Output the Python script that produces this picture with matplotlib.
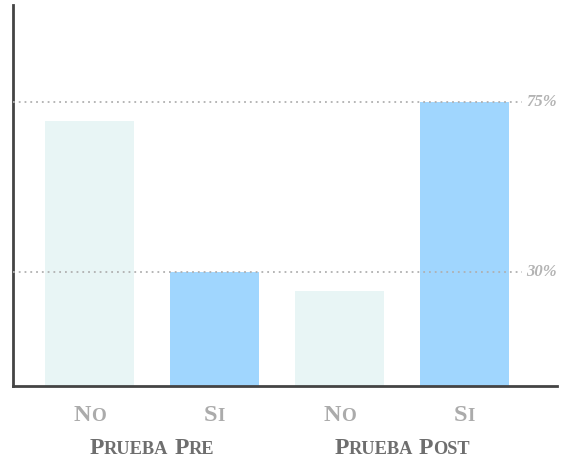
import numpy as np
import matplotlib
matplotlib.use("Agg")
import matplotlib.pyplot as plt

# data
categories = ["No", "Si", "No", "Si"]
groups = ["Prueba Pre", "Prueba Post"]
values = [70, 30, 25, 75]
ref_lines = [75, 30]
ref_labels = ["75%", "30%"]
bar_colors = ["#e8f5f5", "#a0d6fe", "#e8f5f5", "#a0d6fe"]

W, H = 564, 458
fig = plt.figure(figsize=(W / 100, H / 100), dpi=100)
ax = fig.add_axes([13 / W, 1 - 386 / H, 544 / W, 381 / H])

x = np.arange(len(values))
ax.bar(x, values, width=0.71, color=bar_colors, zorder=1)
ax.set_xlim(-0.612, 3.74)
ax.set_ylim(0, 100.6)

for v, lab in zip(ref_lines, ref_labels):
    ax.axhline(v, xmin=0, xmax=0.936, color="#b0b0b0", lw=1.3,
               linestyle=(0, (1, 2.2)), zorder=3)
    ax.text(0.999, v, lab, transform=ax.get_yaxis_transform(), ha="right",
            va="center", fontsize=12, family="Liberation Serif",
            style="italic", weight="bold", color="#b3b3b3")

for s in ["top", "right"]:
    ax.spines[s].set_visible(False)
for s in ["left", "bottom"]:
    ax.spines[s].set_color("#444444")
    ax.spines[s].set_linewidth(2)
ax.set_xticks([])
ax.set_yticks([])

renderer = fig.canvas.get_renderer()


def small_caps(cx, by, s, size, color):
    parts = []
    for i, word in enumerate(s.split(" ")):
        if i:
            parts.append((" ", size))
        parts.append((word[0].upper(), size))
        if len(word) > 1:
            parts.append((word[1:].upper(), size * 0.78))
    texts, widths = [], []
    for p, sz in parts:
        t = fig.text(0, 0, p, fontsize=sz, family="Liberation Serif",
                     weight="bold", color=color, va="baseline", ha="left")
        if p == " ":
            w = 0.25 * sz * 100 / 72
        else:
            w = t.get_window_extent(renderer).width
        texts.append(t)
        widths.append(w)
    xx = cx - sum(widths) / 2
    for t, w in zip(texts, widths):
        t.set_position((xx / W, 1 - by / H))
        xx += w


# tick labels in pixel positions from the data axis
for xi, cat in zip(x, categories):
    px = ax.transData.transform((xi, 0))[0]
    small_caps(px, 421, cat, 17.5, "#ababab")

for gi, g in enumerate(groups):
    px = ax.transData.transform((2 * gi + 0.5, 0))[0]
    small_caps(px, 454, g, 17, "#6e6e6e")

fig.savefig("out.png", dpi=100)
